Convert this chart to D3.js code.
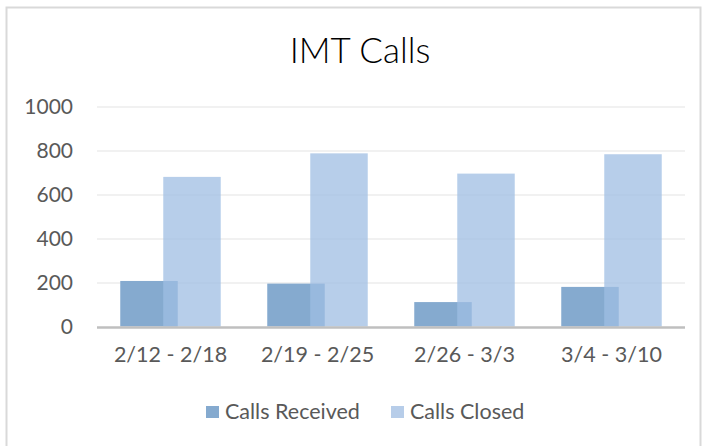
<!DOCTYPE html>
<html>
<head>
<meta charset="utf-8">
<script src="https://cdn.jsdelivr.net/npm/d3@7"></script>
<style>
  body { margin: 0; background: #fff; }
  svg { display: block; font-family: Lato, "Open Sans", sans-serif; }
</style>
</head>
<body>
<svg width="704" height="446"></svg>
<script>
var weeks = ['2/12 - 2/18', '2/19 - 2/25', '2/26 - 3/3', '3/4 - 3/10'];
var callsReceived = [207, 195, 111, 180];
var callsClosed = [680, 787, 695, 783];
var yTicks = [0, 200, 400, 600, 800, 1000];

var svg = d3.select('svg');

// chart frame
svg.append('rect')
  .attr('x', 6.5).attr('y', 7.5)
  .attr('width', 694).attr('height', 450)
  .attr('fill', 'none')
  .attr('stroke', '#d9d9d9')
  .attr('stroke-width', 2);

var margin = {top: 106.5, left: 97, right: 19, bottom: 119.5},
  width = 704 - margin.left - margin.right,
  height = 446 - margin.top - margin.bottom;

var x = d3.scaleBand().domain(weeks).range([0, width]);
var y = d3.scaleLinear().domain([0, 1000]).range([height, 0]);

var g = svg.append('g').attr('transform', 'translate(' + margin.left + ',' + margin.top + ')');

// gridlines
g.selectAll('.grid')
  .data(yTicks.slice(1))
  .enter().append('line')
  .attr('class', 'grid')
  .attr('x1', 0).attr('x2', width)
  .attr('y1', function(d) { return Math.round(y(d)) + 0.5; })
  .attr('y2', function(d) { return Math.round(y(d)) + 0.5; })
  .attr('stroke', '#ececec')
  .attr('stroke-width', 1.5);

var barW = 57.5, overlap = 14.5;
var span = 2 * barW - overlap;

g.selectAll('.rec')
  .data(callsReceived)
  .enter().append('rect')
  .attr('class', 'rec')
  .attr('x', function(d, i) { return x(weeks[i]) + x.bandwidth() / 2 - span / 2; })
  .attr('width', barW)
  .attr('y', function(d) { return y(d); })
  .attr('height', function(d) { return height - y(d); })
  .attr('fill', '#85aacf');

g.selectAll('.clo')
  .data(callsClosed)
  .enter().append('rect')
  .attr('class', 'clo')
  .attr('x', function(d, i) { return x(weeks[i]) + x.bandwidth() / 2 - span / 2 + barW - overlap; })
  .attr('width', barW)
  .attr('y', function(d) { return y(d); })
  .attr('height', function(d) { return height - y(d); })
  .attr('fill', '#9fbee3')
  .attr('fill-opacity', 0.75);

// x axis line
g.append('line')
  .attr('x1', 0).attr('x2', width)
  .attr('y1', height + 1).attr('y2', height + 1)
  .attr('stroke', '#bfbfbf')
  .attr('stroke-width', 2.5);

// y axis labels
var yAxis = g.append('g')
  .call(d3.axisLeft(y).tickValues(yTicks).tickFormat(d3.format('d')).tickSize(0).tickPadding(24));
yAxis.select('.domain').remove();
yAxis.selectAll('text')
  .attr('fill', '#595959')
  .style('font-size', '21px')
  .style('font-family', 'Lato, sans-serif');

// x axis labels
var xAxis = g.append('g')
  .attr('transform', 'translate(0,' + height + ')')
  .call(d3.axisBottom(x).tickSize(0).tickPadding(20));
xAxis.select('.domain').remove();
xAxis.selectAll('text')
  .attr('fill', '#595959')
  .style('font-size', '21.5px')
  .style('font-family', 'Lato, sans-serif');

// title
svg.append('text')
  .attr('x', 360).attr('y', 63)
  .attr('text-anchor', 'middle')
  .attr('fill', '#000')
  .style('font-size', '35px')
  .style('font-weight', 300)
  .text('IMT Calls');

// legend
var legend = [
  {name: 'Calls Received', color: '#85aacf', x: 206},
  {name: 'Calls Closed', color: '#b7cde9', x: 391}
];
var lg = svg.selectAll('.legend')
  .data(legend)
  .enter().append('g')
  .attr('class', 'legend')
  .attr('transform', function(d) { return 'translate(' + d.x + ',406)'; });
lg.append('rect')
  .attr('width', 13).attr('height', 12)
  .attr('fill', function(d) { return d.color; });
lg.append('text')
  .attr('x', 19).attr('y', 13)
  .attr('fill', '#595959')
  .style('font-size', '21.5px')
  .text(function(d) { return d.name; });
</script>
</body>
</html>
